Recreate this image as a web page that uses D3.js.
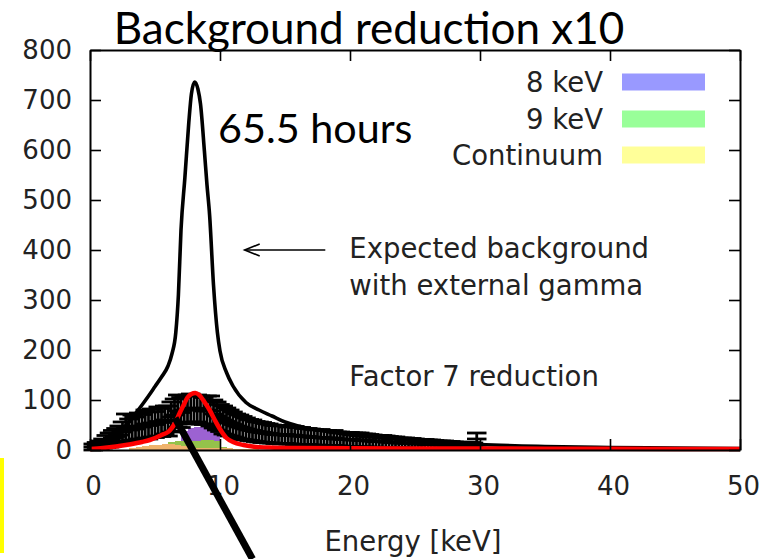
<!DOCTYPE html>
<html>
<head>
<meta charset="utf-8">
<script src="https://cdn.jsdelivr.net/npm/d3@7"></script>
<style>
  html, body { margin: 0; padding: 0; background: #fff; }
  svg { display: block; }
</style>
</head>
<body>
<svg id="chart" width="780" height="559"></svg>
<script>
// ---- data ----------------------------------------------------------------
const xTicks = [0, 10, 20, 30, 40, 50];
const yTicks = [0, 100, 200, 300, 400, 500, 600, 700, 800];

// Expected background with external gamma (black curve)
const expectedE = [0, 1, 2, 2.5, 3, 3.5, 4, 4.5, 5, 5.5, 6, 6.3, 6.6, 6.8, 7, 7.3, 7.6, 7.8, 8.05, 8.3, 8.5, 8.8, 9, 9.2, 9.5, 9.8, 10, 10.5, 11, 12, 13, 14, 15, 16, 18, 20, 22, 25, 28, 30, 35, 40, 45, 50];
const expectedV = [4, 10, 25, 40, 58, 73, 90, 108, 127, 146, 168, 192, 235, 310, 440, 545, 655, 712, 736, 722, 692, 598, 530, 470, 330, 235, 198, 155, 128, 95, 80, 68, 56, 48, 38, 30, 25, 19, 14, 11, 7, 5, 4, 3];

// Fit after factor 7 reduction (red curve)
const reducedE = [0, 1, 2, 3, 4, 4.6, 5, 5.5, 6, 6.2, 6.5, 6.9, 7.2, 7.5, 7.8, 8.1, 8.4, 8.8, 9.2, 9.6, 9.9, 10.5, 11, 11.8, 12.5, 13.8, 16, 20, 30, 40, 50];
const reducedV = [2, 4, 7, 11, 16, 20, 24, 30, 36, 41, 52, 74, 90, 105, 112, 114, 110, 96, 80, 60, 46, 24, 16, 10, 7, 5, 4, 3.5, 3, 2.5, 2];

// Measured spectrum: bin centres (keV), counts and errors
const measE = [
  0.25, 0.5, 0.75, 1.0, 1.25, 1.5, 1.75, 2.0, 2.25, 2.5, 2.75, 3.0, 3.25, 3.5, 3.75, 4.0,
  4.25, 4.5, 4.75, 5.0, 5.25, 5.5, 5.75, 6.0, 6.25, 6.5, 6.75, 7.0, 7.25, 7.5, 7.75, 8.0,
  8.25, 8.5, 8.75, 9.0, 9.25, 9.5, 9.75, 10.0, 10.25, 10.5, 10.75, 11.0, 11.25, 11.5, 11.75, 12.0,
  12.25, 12.5, 12.75, 13.0, 13.25, 13.5, 13.75, 14.0, 14.25, 14.5, 14.75, 15.0, 15.25, 15.5, 15.75, 16.0,
  16.25, 16.5, 16.75, 17.0, 17.25, 17.5, 17.75, 18.0, 18.25, 18.5, 18.75, 19.0, 19.25, 19.5, 19.75, 20.0,
  20.25, 20.5, 20.75, 21.0, 21.25, 21.5, 21.75, 22.0, 22.25, 22.5, 22.75, 23.0, 23.25, 23.5, 23.75, 24.0,
  24.25, 24.5, 24.75, 25.0, 25.25, 25.5, 25.75, 26.0, 26.25, 26.5, 26.75, 27.0, 27.25, 27.5, 27.75, 28.0,
  28.25, 28.5, 28.75, 29.0, 29.25, 29.5, 29.75];
const measV = [
  6, 8, 10, 13, 17, 20, 24, 27, 30, 36, 44, 40, 45, 42, 48, 46,
  52, 49, 54, 51, 57, 55, 60, 58, 66, 70, 78, 75, 80, 82, 84, 82,
  83, 80, 78, 80, 78, 72, 68, 64, 60, 57, 54, 51, 48, 46, 44, 42,
  40, 39, 37, 36, 35, 34, 33, 32, 31, 31, 30, 31, 29, 30, 29, 28,
  28, 27, 27, 26, 25, 25, 25, 24, 24, 23, 24, 22, 22, 21, 21, 21,
  20, 20, 20, 19, 19, 18, 18, 17, 17, 17, 16, 16, 15, 15, 14, 14,
  14, 13, 13, 13, 12, 12, 12, 11, 11, 11, 10, 10, 10, 9, 9, 9,
  9, 8, 8, 8, 8, 8, 22];
const measErr = [
  6, 7, 8, 9, 12, 14, 15, 16, 18, 20, 28, 22, 25, 24, 26, 25,
  28, 27, 28, 26, 29, 28, 28, 30, 30, 32, 32, 30, 28, 28, 28, 27,
  27, 28, 27, 28, 30, 28, 28, 27, 28, 27, 26, 25, 24, 24, 23, 22,
  21, 21, 20, 20, 20, 19, 19, 18, 18, 18, 18, 18, 17, 18, 18, 17,
  17, 16, 16, 16, 16, 15, 16, 15, 15, 15, 15, 14, 14, 14, 14, 14,
  14, 14, 14, 13, 13, 13, 12, 12, 12, 12, 12, 11, 11, 11, 10, 10,
  10, 10, 10, 9, 9, 9, 9, 9, 9, 8, 8, 8, 8, 8, 8, 7,
  7, 7, 7, 7, 7, 6, 12];
const measXErr = 0.75;

// Stacked simulated components (0.5 keV bins, left edges)
const binLeft = [3, 3.5, 4, 4.5, 5, 5.5, 6, 6.5, 7, 7.5, 8, 8.5, 9, 9.5, 10, 10.5, 11, 11.5, 12, 12.5];
const binWidth = 0.5;
const continuum = [4, 6, 8, 10, 11, 12, 12, 10, 8, 6, 5, 5, 5, 5, 4, 4, 3, 3, 2, 2];
const line9keV  = [0, 0, 0, 0, 0, 0, 4, 8, 10, 12, 14, 15, 15, 13, 2, 0, 0, 0, 0, 0];
const line8keV  = [0, 0, 0, 0, 0, 0, 0, 0, 20, 26, 27, 27, 26, 28, 0, 0, 0, 0, 0, 0];

const legendLabels = ["8 keV", "9 keV", "Continuum"];
const legendColors = ["#9999ff", "#99ff99", "#ffff99"];
const fillColors = { continuum: "#efb36c", k9: "#94c24b", k8: "#9c62d2" };

// ---- scales ----------------------------------------------------------------
const svg = d3.select("#chart");
const x = d3.scaleLinear().domain([0, 50]).range([90, 740]);
const y = d3.scaleLinear().domain([0, 800]).range([450, 50]);

const tickFont = "'DejaVu Sans', sans-serif";
const tickColor = "#222";
const noteSize = 27.5;

// ---- stacked component histograms ----------------------------------------
const layers = [
  { key: "continuum", vals: continuum },
  { key: "k9", vals: line9keV },
  { key: "k8", vals: line8keV }
];
const base = binLeft.map(() => 0);
layers.forEach(layer => {
  const g = svg.append("g");
  binLeft.forEach((e, i) => {
    const v = layer.vals[i];
    if (v <= 0) return;
    g.append("rect")
      .attr("x", x(e))
      .attr("width", x(e + binWidth) - x(e))
      .attr("y", y(base[i] + v))
      .attr("height", y(base[i]) - y(base[i] + v))
      .attr("fill", fillColors[layer.key])
      .attr("shape-rendering", "crispEdges");
    base[i] += v;
  });
});

// ---- measured points with error bars --------------------------------------
const pts = svg.append("g").attr("stroke", "#000").attr("stroke-width", 2.8);
const capHalf = 0.75;
measE.forEach((e, i) => {
  const v = measV[i], err = measErr[i];
  const lo = Math.max(v - err, 0), hi = v + err;
  pts.append("line").attr("x1", x(e - measXErr)).attr("x2", x(e + measXErr))
    .attr("y1", y(v)).attr("y2", y(v));
  pts.append("line").attr("x1", x(e)).attr("x2", x(e))
    .attr("y1", y(lo)).attr("y2", y(hi));
  pts.append("line").attr("x1", x(e - capHalf)).attr("x2", x(e + capHalf))
    .attr("y1", y(hi)).attr("y2", y(hi));
  pts.append("line").attr("x1", x(e - capHalf)).attr("x2", x(e + capHalf))
    .attr("y1", y(lo)).attr("y2", y(lo));
});

// ---- curves -----------------------------------------------------------------
const line = d3.line().x(d => x(d[0])).y(d => y(d[1])).curve(d3.curveMonotoneX);
svg.append("path")
  .datum(expectedE.map((e, i) => [e, expectedV[i]]))
  .attr("d", line).attr("fill", "none").attr("stroke", "#000").attr("stroke-width", 3.6)
  .attr("stroke-linejoin", "round");
svg.append("path")
  .datum(reducedE.map((e, i) => [e, reducedV[i]]))
  .attr("d", line).attr("fill", "none").attr("stroke", "#ff0000").attr("stroke-width", 4.5)
  .attr("stroke-linejoin", "round");

// ---- axes (ticks pointing inward on all four sides) -----------------------
function styleAxis(g) {
  g.selectAll("path.domain").attr("stroke", "#000").attr("stroke-width", 2);
  g.selectAll(".tick line").attr("stroke", "#000").attr("stroke-width", 1.6);
  g.selectAll("text").attr("font-family", tickFont).attr("font-size", 26).attr("fill", tickColor);
}
svg.append("g").attr("transform", "translate(0,450)")
  .call(d3.axisBottom(x).tickValues(xTicks).tickSize(-11).tickSizeOuter(0).tickPadding(27))
  .call(styleAxis)
  .call(g => g.selectAll("text").attr("dx", 3));
svg.append("g").attr("transform", "translate(0,50)")
  .call(d3.axisTop(x).tickValues(xTicks).tickSize(-11).tickSizeOuter(0).tickFormat(""))
  .call(styleAxis);
svg.append("g").attr("transform", "translate(90,0)")
  .call(d3.axisLeft(y).tickValues(yTicks).tickSize(-11).tickSizeOuter(0).tickPadding(18))
  .call(styleAxis);
svg.append("g").attr("transform", "translate(740,0)")
  .call(d3.axisRight(y).tickValues(yTicks).tickSize(-11).tickSizeOuter(0).tickFormat(""))
  .call(styleAxis);

// x-axis title
svg.append("text")
  .attr("x", 413).attr("y", 551)
  .attr("text-anchor", "middle")
  .attr("font-family", tickFont).attr("font-size", noteSize).attr("fill", tickColor)
  .text("Energy [keV]");

// ---- legend ----------------------------------------------------------------
const legendY = [82, 119, 155];
legendLabels.forEach((lab, i) => {
  svg.append("text")
    .attr("x", 603).attr("y", legendY[i]).attr("dy", "0.36em")
    .attr("text-anchor", "end")
    .attr("font-family", tickFont).attr("font-size", noteSize).attr("fill", tickColor)
    .text(lab);
  svg.append("rect")
    .attr("x", 622).attr("y", legendY[i] - 8.5)
    .attr("width", 83).attr("height", 17)
    .attr("fill", legendColors[i]);
});

// ---- annotations -----------------------------------------------------------
// arrow pointing at the expected background curve
const arrow = { fromE: 18.1, toE: 11.9, v: 400 };
const ag = svg.append("g").attr("stroke", "#000").attr("stroke-width", 1.6).attr("fill", "none");
ag.append("line").attr("x1", x(arrow.fromE)).attr("x2", x(arrow.toE)).attr("y1", y(arrow.v)).attr("y2", y(arrow.v));
ag.append("path").attr("d",
  `M${x(arrow.toE) + 15},${y(arrow.v) - 6} L${x(arrow.toE)},${y(arrow.v)} L${x(arrow.toE) + 15},${y(arrow.v) + 6}`);

[["Expected background", 404], ["with external gamma", 330], ["Factor 7 reduction", 148]].forEach(([t, v]) => {
  svg.append("text")
    .attr("x", x(19.95)).attr("y", y(v)).attr("dy", "0.36em")
    .attr("font-family", tickFont).attr("font-size", noteSize).attr("fill", tickColor)
    .text(t);
});

// title and run-time note
svg.append("text")
  .attr("x", 369).attr("y", 44)
  .attr("text-anchor", "middle")
  .attr("font-family", "Lato, 'Open Sans', sans-serif").attr("font-size", 44).attr("fill", "#000")
  .text("Background reduction x10");
svg.append("text")
  .attr("x", x(9.85)).attr("y", y(614))
  .attr("font-family", "Lato, 'Open Sans', sans-serif").attr("font-size", 41.3).attr("fill", "#000")
  .text("65.5 hours");

// pointer line running off the bottom of the frame
const pointer = [[6.55, 64], [12.5, -218]];
svg.append("line")
  .attr("x1", x(pointer[0][0])).attr("y1", y(pointer[0][1]))
  .attr("x2", x(pointer[1][0])).attr("y2", y(pointer[1][1]))
  .attr("stroke", "#000").attr("stroke-width", 7);

// yellow marker at the left edge
svg.append("rect").attr("x", 0).attr("y", 458).attr("width", 4).attr("height", 95).attr("fill", "#ffff00");
</script>
</body>
</html>
